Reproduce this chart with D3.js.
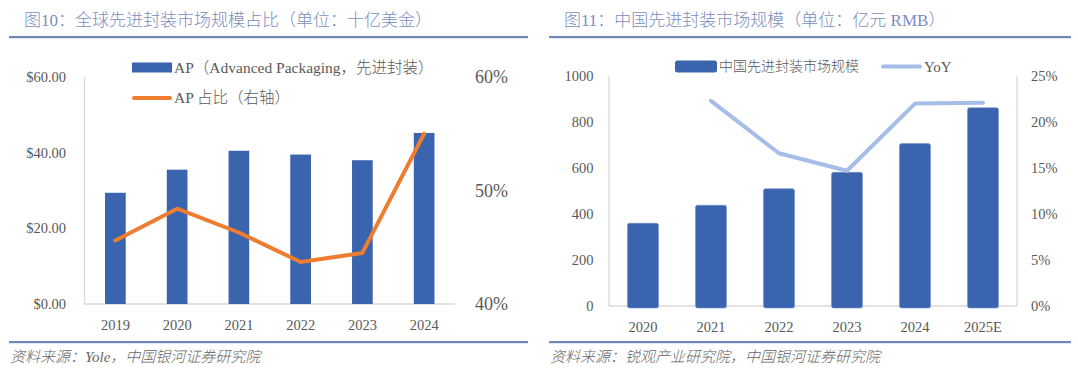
<!DOCTYPE html>
<html><head><meta charset="utf-8">
<script src="https://cdn.jsdelivr.net/npm/d3@7"></script>
<style>
body{margin:0;background:#fff;}
svg{display:block;font-family:"Liberation Serif","DejaVu Serif","Noto Sans CJK SC",serif;}
</style></head>
<body><svg id="c" width="1078" height="378"></svg>
<script>
// ---- Left chart data ----
const years1 = ["2019","2020","2021","2022","2023","2024"];
const apValues = [29.4, 35.5, 40.5, 39.5, 38.0, 45.2];
const apShare = [45.6, 48.4, 46.3, 43.7, 44.5, 55.0];
const leftTicks1 = [0, 20, 40, 60];
const rightTicks1 = [40, 50, 60];
// ---- Right chart data ----
const years2 = ["2020","2021","2022","2023","2024","2025E"];
const cnValues = [360, 438, 510, 581, 706, 862];
const yoyYears = ["2021","2022","2023","2024","2025E"];
const yoyValues = [22.3, 16.6, 14.7, 22.0, 22.1];
const leftTicks2 = [0, 200, 400, 600, 800, 1000];
const rightTicks2 = [0, 5, 10, 15, 20, 25];

const svg = d3.select("#c");
const titleCol = "#7b8ec0", ruleCol = "#6f87b8", axisCol = "#d9d9d9", txt = "#595959";
const barCol = "#3b64ae", orange = "#ed7d31", lightBlue = "#a6bde8";

function frame(x0, x1, title, source) {
  svg.append("text").attr("x", x0 + 15).attr("y", 20).attr("dy", "0.35em")
    .attr("font-size", 17).attr("font-weight", 300).attr("fill", titleCol).text(title);
  svg.append("rect").attr("x", x0).attr("y", 36).attr("width", x1 - x0).attr("height", 2.2).attr("fill", ruleCol);
  svg.append("rect").attr("x", x0).attr("y", 341).attr("width", x1 - x0).attr("height", 2.2).attr("fill", ruleCol);
  svg.append("text").attr("x", x0 + 1).attr("y", 357).attr("dy", "0.35em")
    .attr("font-size", 15).attr("font-style", "italic").attr("font-weight", 300).attr("fill", "#666").text(source);
}

frame(9, 528, "图10：全球先进封装市场规模占比（单位：十亿美金）", "资料来源：Yole，中国银河证券研究院");
frame(549, 1071, "图11：中国先进封装市场规模（单位：亿元 RMB）", "资料来源：锐观产业研究院，中国银河证券研究院");

// ================= Left chart =================
{
  const x = d3.scaleBand().domain(years1).range([84.5, 455]).paddingInner(0.665).paddingOuter(0.3325);
  const y = d3.scaleLinear().domain([0, 60]).range([304, 77]);
  const y2 = d3.scaleLinear().domain([40, 60]).range([304, 77]);
  const g = svg.append("g");
  g.append("line").attr("x1", 84.5).attr("x2", 84.5).attr("y1", 77).attr("y2", 304).attr("stroke", axisCol).attr("stroke-width", 1.3);
  g.append("line").attr("x1", 84.5).attr("x2", 455).attr("y1", 304).attr("y2", 304).attr("stroke", axisCol).attr("stroke-width", 1.3);
  g.selectAll(".lt").data(leftTicks1).join("text")
    .attr("x", 66).attr("y", d => y(d)).attr("dy", "0.35em").attr("text-anchor", "end")
    .attr("font-size", 14.5).attr("fill", txt).text(d => "$" + d3.format(".2f")(d));
  g.selectAll(".rt").data(rightTicks1).join("text")
    .attr("x", 475).attr("y", d => y2(d)).attr("dy", "0.35em")
    .attr("font-size", 18).attr("fill", txt).text(d => d + "%");
  g.selectAll(".xl").data(years1).join("text")
    .attr("x", d => x(d) + x.bandwidth() / 2).attr("y", 325).attr("dy", "0.35em").attr("text-anchor", "middle")
    .attr("font-size", 14.5).attr("fill", txt).text(d => d);
  g.selectAll(".b").data(years1).join("rect")
    .attr("x", d => x(d)).attr("width", x.bandwidth())
    .attr("y", (d, i) => y(apValues[i])).attr("height", (d, i) => y(0) - y(apValues[i]))
    .attr("fill", barCol);
  const line = d3.line().x((d, i) => x(years1[i]) + x.bandwidth() / 2).y(d => y2(d));
  g.append("path").datum(apShare).attr("d", line).attr("fill", "none")
    .attr("stroke", orange).attr("stroke-width", 4).attr("stroke-linejoin", "round").attr("stroke-linecap", "round");
  g.append("rect").attr("x", 132).attr("y", 62.5).attr("width", 40).attr("height", 10).attr("fill", barCol);
  g.append("text").attr("x", 174).attr("y", 67.5).attr("dy", "0.35em").attr("font-size", 15.5).attr("font-weight", 300).attr("fill", txt)
    .text("AP（Advanced Packaging，先进封装）");
  g.append("line").attr("x1", 134).attr("x2", 170).attr("y1", 98).attr("y2", 98)
    .attr("stroke", orange).attr("stroke-width", 4).attr("stroke-linecap", "round");
  g.append("text").attr("x", 174).attr("y", 98).attr("dy", "0.35em").attr("font-size", 15.5).attr("font-weight", 300).attr("fill", txt)
    .text("AP 占比（右轴）");
}

// ================= Right chart =================
{
  const x = d3.scaleBand().domain(years2).range([609, 1017]).paddingInner(0.545).paddingOuter(0.2725);
  const y = d3.scaleLinear().domain([0, 1000]).range([306, 76]);
  const y2 = d3.scaleLinear().domain([0, 25]).range([306, 76]);
  const g = svg.append("g");
  g.append("line").attr("x1", 609).attr("x2", 609).attr("y1", 76).attr("y2", 306).attr("stroke", axisCol).attr("stroke-width", 1.3);
  g.append("line").attr("x1", 1017).attr("x2", 1017).attr("y1", 76).attr("y2", 306).attr("stroke", axisCol).attr("stroke-width", 1.3);
  g.append("line").attr("x1", 609).attr("x2", 1017).attr("y1", 306).attr("y2", 306).attr("stroke", axisCol).attr("stroke-width", 1.3);
  g.selectAll(".lt").data(leftTicks2).join("text")
    .attr("x", 593.5).attr("y", d => y(d)).attr("dy", "0.35em").attr("text-anchor", "end")
    .attr("font-size", 14.5).attr("fill", txt).text(d => d);
  g.selectAll(".rt").data(rightTicks2).join("text")
    .attr("x", 1031).attr("y", d => y2(d)).attr("dy", "0.35em")
    .attr("font-size", 14.5).attr("fill", txt).text(d => d + "%");
  g.selectAll(".xl").data(years2).join("text")
    .attr("x", d => x(d) + x.bandwidth() / 2).attr("y", 327).attr("dy", "0.35em").attr("text-anchor", "middle")
    .attr("font-size", 14.5).attr("fill", txt).text(d => d);
  g.selectAll(".b").data(years2).join("rect")
    .attr("x", d => x(d)).attr("width", x.bandwidth())
    .attr("y", (d, i) => y(cnValues[i])).attr("height", (d, i) => y(0) - y(cnValues[i]) + 2)
    .attr("rx", 2).attr("fill", barCol).attr("stroke", "#6f8fcc").attr("stroke-width", 0.6);
  const line = d3.line().x((d, i) => x(yoyYears[i]) + x.bandwidth() / 2).y(d => y2(d));
  g.append("path").datum(yoyValues).attr("d", line).attr("fill", "none")
    .attr("stroke", lightBlue).attr("stroke-width", 4).attr("stroke-linejoin", "round").attr("stroke-linecap", "round");
  g.append("rect").attr("x", 675).attr("y", 60.5).attr("width", 42).attr("height", 12).attr("rx", 2.5).attr("fill", barCol);
  g.append("text").attr("x", 719).attr("y", 66.5).attr("dy", "0.35em").attr("font-size", 14).attr("font-weight", 300).attr("fill", txt)
    .text("中国先进封装市场规模");
  g.append("line").attr("x1", 883).attr("x2", 920).attr("y1", 66.5).attr("y2", 66.5)
    .attr("stroke", lightBlue).attr("stroke-width", 4).attr("stroke-linecap", "round");
  g.append("text").attr("x", 924).attr("y", 66.5).attr("dy", "0.35em").attr("font-size", 15).attr("fill", txt)
    .text("YoY");
}
</script></body></html>
